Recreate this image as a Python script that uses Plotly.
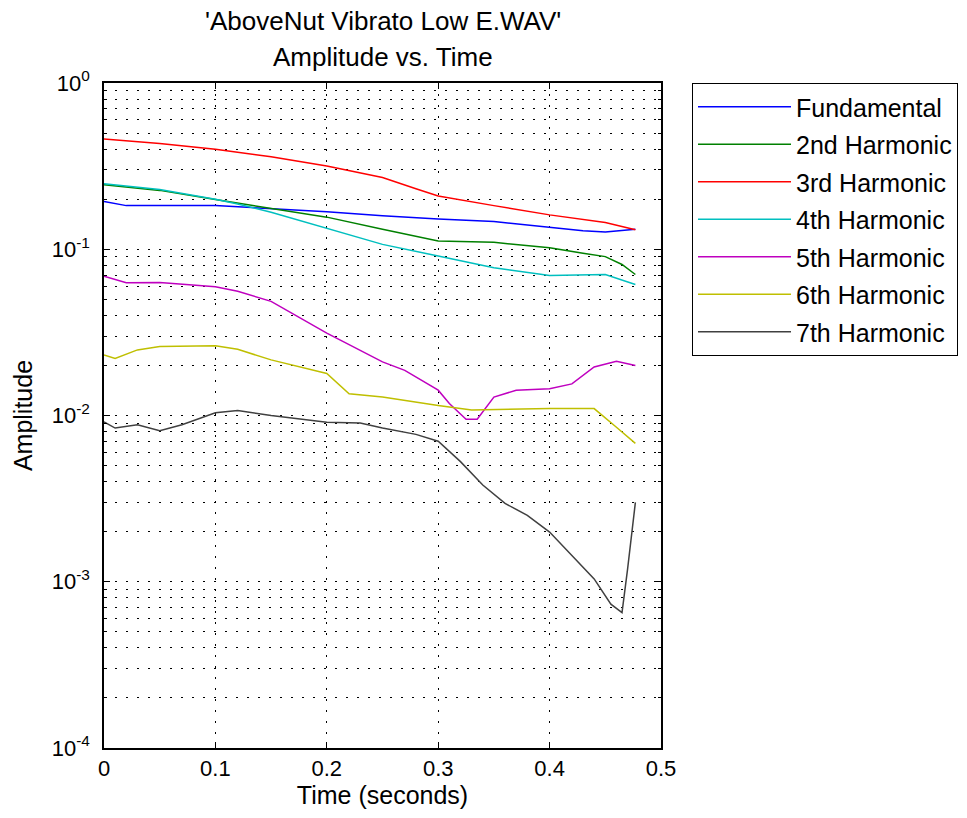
import plotly.graph_objects as go

# ---- data ----
names = ["Fundamental", "2nd Harmonic", "3rd Harmonic", "4th Harmonic",
         "5th Harmonic", "6th Harmonic", "7th Harmonic"]
colors = ["#0000ff", "#008000", "#ff0000", "#00bfbf", "#bf00bf", "#bfbf00", "#404040"]

t_fund = [0, 0.02, 0.1, 0.15, 0.2, 0.25, 0.3, 0.35, 0.4, 0.43, 0.45, 0.477]
a_fund = [0.194, 0.183, 0.183, 0.175, 0.168, 0.159, 0.152, 0.147, 0.136, 0.129, 0.127, 0.132]

t_h2 = [0, 0.05, 0.1, 0.15, 0.2, 0.25, 0.3, 0.35, 0.4, 0.43, 0.45, 0.465, 0.477]
a_h2 = [0.244, 0.226, 0.199, 0.176, 0.156, 0.132, 0.112, 0.11, 0.102, 0.0946, 0.0903, 0.081, 0.0705]

t_h3 = [0, 0.02, 0.05, 0.1, 0.15, 0.2, 0.25, 0.28, 0.3, 0.35, 0.4, 0.45, 0.477]
a_h3 = [0.46, 0.448, 0.433, 0.40, 0.36, 0.317, 0.27, 0.231, 0.209, 0.183, 0.161, 0.145, 0.131]

t_h4 = [0, 0.05, 0.1, 0.12, 0.15, 0.2, 0.25, 0.3, 0.35, 0.4, 0.45, 0.477]
a_h4 = [0.248, 0.229, 0.2, 0.187, 0.167, 0.133, 0.107, 0.091, 0.0774, 0.0695, 0.0705, 0.0614]

t_h5 = [0, 0.02, 0.05, 0.1, 0.12, 0.15, 0.2, 0.25, 0.27, 0.3, 0.31, 0.325, 0.335,
        0.35, 0.37, 0.4, 0.42, 0.44, 0.46, 0.477]
a_h5 = [0.0689, 0.0628, 0.063, 0.0594, 0.0559, 0.0486, 0.0313, 0.021, 0.0187, 0.0142,
        0.0118, 0.0095, 0.0095, 0.0129, 0.0142, 0.0145, 0.0155, 0.0196, 0.0212, 0.020]

t_h6 = [0, 0.01, 0.03, 0.05, 0.1, 0.12, 0.15, 0.2, 0.22, 0.25, 0.3, 0.33, 0.4, 0.44, 0.46, 0.477]
a_h6 = [0.0231, 0.022, 0.0248, 0.026, 0.0263, 0.025, 0.0216, 0.0179, 0.0135, 0.0129,
        0.0115, 0.0108, 0.011, 0.011, 0.0085, 0.0068]

t_h7 = [0, 0.01, 0.03, 0.05, 0.07, 0.09, 0.1, 0.12, 0.15, 0.2, 0.23, 0.25, 0.28, 0.3,
        0.32, 0.34, 0.36, 0.38, 0.4, 0.42, 0.44, 0.455, 0.465, 0.47, 0.477]
a_h7 = [0.00916, 0.0084, 0.0088, 0.0081, 0.0088, 0.0099, 0.0104, 0.0107, 0.0100, 0.0091,
        0.009, 0.0084, 0.0077, 0.0070, 0.00528, 0.00382, 0.00296, 0.00251, 0.00199,
        0.00144, 0.00104, 0.000733, 0.000652, 0.00119, 0.0030]

x_ticks = [0, 0.1, 0.2, 0.3, 0.4, 0.5]
x_ticklabels = ["0", "0.1", "0.2", "0.3", "0.4", "0.5"]
y_ticks = [1e-4, 1e-3, 1e-2, 1e-1, 1]
y_ticklabels = ["10<sup>-4</sup>", "10<sup>-3</sup>", "10<sup>-2</sup>",
                "10<sup>-1</sup>", "10<sup>0</sup>"]
y_minor = [m * d for d in [1e-4, 1e-3, 1e-2, 1e-1] for m in range(2, 10)]

title_lines = ["'AboveNut Vibrato Low E.WAV'", "Amplitude vs. Time"]

series_t = [t_fund, t_h2, t_h3, t_h4, t_h5, t_h6, t_h7]
series_a = [a_fund, a_h2, a_h3, a_h4, a_h5, a_h6, a_h7]

FONT = "Liberation Sans, Arial, sans-serif"

fig = go.Figure()
for i, (nm, col, tt, aa) in enumerate(zip(names, colors, series_t, series_a)):
    fig.add_trace(go.Scatter(x=tt, y=aa, mode="lines", name=nm,
                             legendgroup=f"g{i}",
                             line=dict(color=col, width=1.5)))

W, H = 967, 818
L, R, T, B = 104, 306, 83, 70
grid_dash = "2px,9px"

fig.update_layout(
    width=W, height=H,
    margin=dict(l=L, r=R, t=T, b=B, autoexpand=False),
    paper_bgcolor="white", plot_bgcolor="white",
    font=dict(family=FONT, size=22, color="black"),
    showlegend=True,
    legend=dict(x=(692 - L) / (W - L - R), xanchor="left", y=1.0, yanchor="top",
                bordercolor="black", borderwidth=1, bgcolor="white",
                font=dict(family=FONT, size=25, color="black"),
                traceorder="grouped", tracegroupgap=2, itemwidth=93,
                itemclick=False),
    xaxis=dict(range=[0, 0.5], tickvals=x_ticks, ticktext=x_ticklabels,
               showline=True, linecolor="black", linewidth=1.5, mirror="ticks",
               ticks="inside", ticklen=6, tickcolor="black",
               tickfont=dict(size=22),
               showgrid=True, gridcolor="black", gridwidth=1, griddash=grid_dash,
               zeroline=False,
               title=dict(text="Time (seconds)", font=dict(size=25), standoff=6)),
    yaxis=dict(type="log", range=[-4, 0], tickvals=y_ticks, ticktext=y_ticklabels,
               showline=True, linecolor="black", linewidth=1.5, mirror="ticks",
               ticks="inside", ticklen=6, tickcolor="black",
               tickfont=dict(size=22), ticklabelstandoff=8,
               showgrid=True, gridcolor="black", gridwidth=1, griddash=grid_dash,
               zeroline=False,
               minor=dict(tickvals=y_minor, ticks="inside", ticklen=3, tickcolor="black",
                          showgrid=True, gridcolor="black", gridwidth=1,
                          griddash=grid_dash),
               title=dict(text="Amplitude", font=dict(size=25), standoff=12)),
)

fig.add_annotation(text=title_lines[0], xref="paper", yref="paper",
                   x=0.5, y=1.0, yshift=T - 21, xanchor="center", yanchor="middle",
                   showarrow=False, font=dict(family=FONT, size=26))
fig.add_annotation(text=title_lines[1], xref="paper", yref="paper",
                   x=0.5, y=1.0, yshift=T - 57, xanchor="center", yanchor="middle",
                   showarrow=False, font=dict(family=FONT, size=26))

fig.write_html("out.html")
